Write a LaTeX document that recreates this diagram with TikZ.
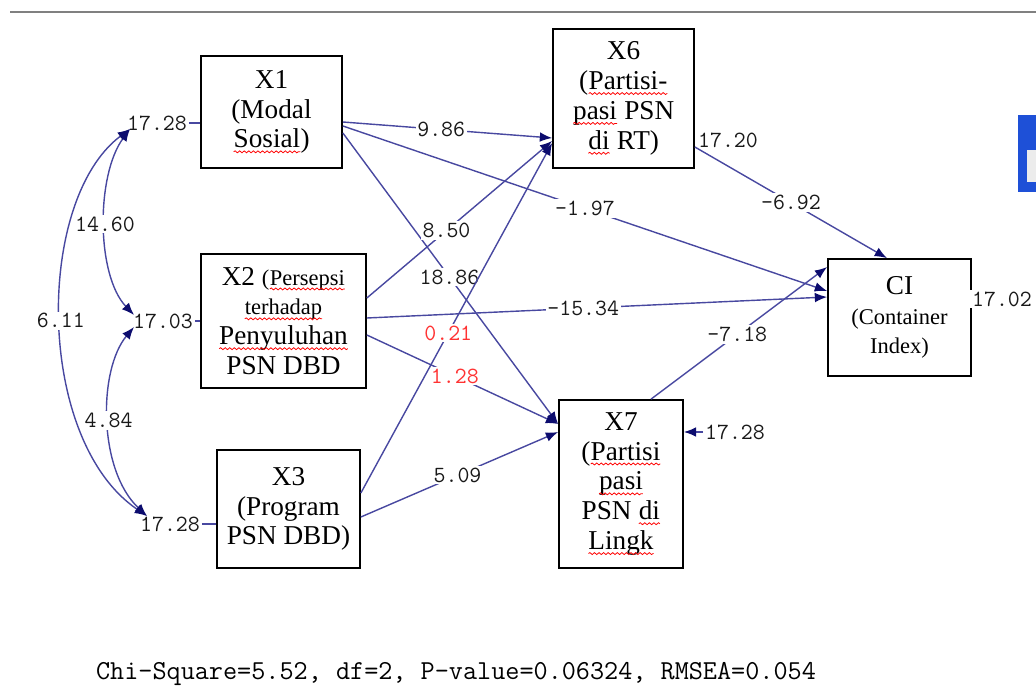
\documentclass[tikz,border=0pt]{standalone}
\usepackage{fontspec}
\setmainfont{Liberation Serif}
\usetikzlibrary{arrows.meta,decorations.pathmorphing}
% subrayado rojo de ortografia
\newcommand\ondas[1]{\tikz[baseline=(t.base)]{%
    \node[inner sep=0pt,outer sep=0pt,draw=none,fill=none,minimum size=0pt] (t) {#1};
    \draw[red,line width=0.45pt,decorate,decoration={snake,amplitude=0.55pt,segment length=2.6pt}]
        ([yshift=-2.2pt]t.base west) -- ([yshift=-2.2pt]t.base east);}}
\newcommand\chico{\fontsize{12.8}{14}\selectfont}

\begin{document}
\begin{tikzpicture}[x=0.02cm,y=-0.02cm,
    caja/.style={draw,line width=1pt,align=center,inner sep=2pt,font=\fontsize{15.5}{17}\selectfont},
    ruta/.style={lnblue,line width=0.8pt,-{Latex[length=7pt,width=5.5pt,color=tipblue]}},
    cov/.style={lnblue,line width=0.8pt,{Latex[length=7pt,width=5.5pt,color=tipblue]}-{Latex[length=7pt,width=5.5pt,color=tipblue]}},
    num/.style={fill=white,inner sep=1pt,text=numgray,font=\fontsize{13.2}{14}\selectfont\ttfamily},
    rojo/.style={num,text=numred}]
        %colores
        \definecolor{lnblue}{RGB}{72,72,160}
        \definecolor{tipblue}{RGB}{12,12,110}
        \definecolor{numgray}{RGB}{25,25,25}
        \definecolor{numred}{RGB}{255,50,50}
        \definecolor{winblue}{RGB}{30,80,215}

        \useasboundingbox (0,0) rectangle (1036,689);

        % Ventana
        \draw[gray,line width=1.2pt] (10,12) -- (1036,12);
        \fill[winblue] (1018,115) rectangle (1036,192);
        \fill[gray!15] (1027,150) rectangle (1036,182);

        % Cajas
        \node[caja,minimum width=2.82cm,minimum height=2.24cm] (x1) at (271.5,112) {X1\\(Modal\\\ondas{Sosial})};
        \node[caja,minimum width=3.30cm,minimum height=2.68cm] (x2) at (283.5,321)
            {X2 {\chico(\ondas{Persepsi}}\\{\chico\ondas{terhadap}}\\\ondas{Penyuluhan}\\PSN DBD};
        \node[caja,minimum width=2.86cm,minimum height=2.36cm] (x3) at (288.5,509) {X3\\(Program\\PSN DBD)};
        \node[caja,minimum width=2.82cm,minimum height=2.78cm] (x6) at (623.5,98.5) {X6\\(\ondas{Partisi-}\\\ondas{pasi} PSN\\\ondas{di} RT)};
        \node[caja,minimum width=2.48cm,minimum height=3.36cm] (x7) at (621,484) {X7\\(\ondas{Partisi}\\\ondas{pasi}\\PSN \ondas{di}\\\ondas{Lingk}};
        \node[caja,minimum width=2.86cm,minimum height=2.34cm] (ci) at (899.5,317.5) {CI\\{\chico(Container}\\{\chico Index)}};

        % Varianzas
        \node[num] (v1) at (157,123) {17.28};
        \node[num] (v2) at (163,321) {17.03};
        \node[num] (v3) at (170,524) {17.28};
        \draw[lnblue,line width=0.8pt] (v1.east) -- (x1.west |- v1.east);
        \draw[lnblue,line width=0.8pt] (v2.east) -- (x2.west |- v2.east);
        \draw[lnblue,line width=0.8pt] (v3.east) -- (x3.west |- v3.east);
        \node[num] (e6) at (728,140) {17.20};
        \node[num] (e7) at (735,432) {17.28};
        \node[num] (eci) at (1002,299) {17.02};
        \draw[ruta] (e7.west) -- (x7.east |- e7.west);

        % Covarianzas
        \coordinate (c1) at (130,129);
        \coordinate (c2a) at (134,315);
        \coordinate (c2b) at (134,327);
        \coordinate (c3) at (147,516);
        \draw[cov] (c1) .. controls (96,175) and (96,275) .. (c2a) node[pos=.5,num] {14.60};
        \draw[cov] (c2b) .. controls (98,370) and (98,470) .. (c3) node[pos=.5,num] {4.84};
        \draw[cov] (c1) .. controls (35,200) and (35,440) .. (c3) node[pos=.5,num] {6.11};

        % Rutas
        \draw[ruta] (x1.east |- 0,122) -- (x6.west |- 0,138) node[pos=.47,num] {9.86};
        \draw[ruta] (x1.east |- 0,126) -- (ci.west |- 0,291) node[pos=.50,num] {-1.97};
        \draw[ruta] (x1.east |- 0,133) -- (x7.west |- 0,424) node[pos=.495,num] {18.86};
        \draw[ruta] (x2.east |- 0,298) -- (x6.west |- 0,141) node[pos=.43,num] {8.50};
        \draw[ruta] (x2.east |- 0,318) -- (ci.west |- 0,297) node[pos=.47,num] {-15.34};
        \draw[ruta] (x2.east |- 0,335) -- (x7.west |- 0,424) node[pos=.46,rojo] {1.28};
        \draw[ruta] (x3.east |- 0,493) -- (x6.west |- 0,143) node[pos=.457,rojo] {0.21};
        \draw[ruta] (x3.east |- 0,517) -- (x7.west |- 0,432) node[pos=.49,num] {5.09};
        \draw[ruta] (x6.east |- 0,147) -- (887,0 |- ci.north) node[pos=.50,num] {-6.92};
        \draw[ruta] (651,0 |- x7.north) -- (ci.west |- 0,267) node[pos=.49,num] {-7.18};

        % Ajuste
        \node[font=\fontsize{15.6}{16}\selectfont\ttfamily,inner sep=0pt] (ajuste) at (456,674)
            {Chi-Square=5.52, df=2, P-value=0.06324, RMSEA=0.054};
\end{tikzpicture}
\end{document}
